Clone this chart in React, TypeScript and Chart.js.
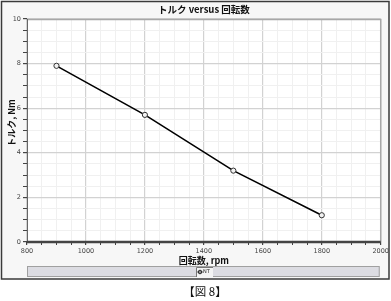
import React, { useEffect, useRef } from "react";
import { Chart, registerables } from "chart.js";

Chart.register(...registerables);

const rpm = [900, 1200, 1500, 1800];
const torque = [7.9, 5.7, 3.2, 1.2];
const seriesLabel = "NT";
const chartTitle = "トルク versus 回転数";
const xTitle = "回転数, rpm";
const yTitle = "トルク, Nm";
const caption = "【図 8】";
const xMajor = [800, 1000, 1200, 1400, 1600, 1800, 2000];
const yMajor = [0, 2, 4, 6, 8, 10];

const JP = "'Noto Sans CJK JP', 'DejaVu Sans', sans-serif";

const framePlugin = {
  id: "frame",
  beforeDraw(chart: any) {
    const ctx = chart.ctx;
    const a = chart.chartArea;
    ctx.save();
    ctx.fillStyle = "#ffffff";
    ctx.fillRect(0, 0, chart.width, chart.height);
    ctx.fillStyle = "#f7f7f7";
    ctx.fillRect(1, 1, 388, 278);
    ctx.strokeStyle = "#3a3a3a";
    ctx.lineWidth = 1.5;
    ctx.strokeRect(1.5, 1.5, 387.5, 277.5);
    ctx.fillStyle = "#ffffff";
    ctx.fillRect(a.left, a.top, a.right - a.left, a.bottom - a.top);
    ctx.restore();
  },
  afterDraw(chart: any) {
    const ctx = chart.ctx;
    const a = chart.chartArea;
    const cx = (a.left + a.right) / 2;
    ctx.save();
    ctx.strokeStyle = "#a8a8a8";
    ctx.lineWidth = 1.5;
    ctx.beginPath();
    ctx.moveTo(a.left, a.top + 0.5);
    ctx.lineTo(a.right, a.top + 0.5);
    ctx.lineTo(a.right, a.bottom);
    ctx.stroke();
    ctx.strokeStyle = "#666";
    ctx.lineWidth = 1;
    ctx.beginPath();
    ctx.moveTo(a.left + 0.5, a.top);
    ctx.lineTo(a.left + 0.5, a.bottom);
    ctx.stroke();
    ctx.strokeStyle = "#444";
    ctx.lineWidth = 2.5;
    ctx.beginPath();
    ctx.moveTo(a.left, a.bottom);
    ctx.lineTo(a.right, a.bottom);
    ctx.stroke();
    ctx.fillStyle = "#111";
    ctx.textAlign = "center";
    ctx.textBaseline = "middle";
    ctx.font = "bold 9.5px " + JP;
    ctx.fillText(chartTitle, cx, 9);
    ctx.font = "bold 9px " + JP;
    ctx.fillText(xTitle, cx, 261);
    ctx.save();
    ctx.translate(12, 123);
    ctx.rotate(-Math.PI / 2);
    ctx.fillText(yTitle, 0, 0);
    ctx.restore();
    ctx.fillStyle = "#dcdce2";
    ctx.fillRect(a.left, 266, a.right - a.left - 1, 10);
    ctx.strokeStyle = "#a0a0a0";
    ctx.lineWidth = 1;
    ctx.strokeRect(a.left + 0.5, 266.5, a.right - a.left - 2, 10);
    ctx.fillStyle = "#f4f4f4";
    ctx.fillRect(196, 267, 17, 10);
    ctx.strokeStyle = "#777";
    ctx.beginPath();
    ctx.moveTo(196.5, 277);
    ctx.lineTo(196.5, 267.5);
    ctx.lineTo(213, 267.5);
    ctx.stroke();
    ctx.beginPath();
    ctx.arc(200, 272, 1.8, 0, Math.PI * 2);
    ctx.strokeStyle = "#222";
    ctx.stroke();
    ctx.beginPath();
    ctx.moveTo(197.5, 272);
    ctx.lineTo(202.5, 272);
    ctx.stroke();
    ctx.fillStyle = "#222";
    ctx.font = "5px 'DejaVu Sans', sans-serif";
    ctx.textAlign = "left";
    ctx.fillText(seriesLabel, 203, 272);
    ctx.fillStyle = "#111";
    ctx.textAlign = "center";
    ctx.font = "11.5px " + JP;
    ctx.fillText(caption, 205, 292);
    ctx.restore();
  },
};

export default function App() {
  const ref = useRef<HTMLCanvasElement>(null);
  useEffect(() => {
    document.body.style.margin = "0";
    const chart = new Chart(ref.current as HTMLCanvasElement, {
      type: "line",
      data: {
        datasets: [
          {
            label: seriesLabel,
            data: rpm.map((x, i) => ({ x, y: torque[i] })),
            borderColor: "#000",
            borderWidth: 1.6,
            pointRadius: 2.6,
            pointBackgroundColor: "#f2f2f2",
            pointBorderColor: "#333",
            pointBorderWidth: 1,
            tension: 0,
          },
        ],
      },
      plugins: [framePlugin],
      options: {
        animation: false,
        responsive: false,
        events: [],
        layout: { padding: { left: 0, top: 19, right: 9, bottom: 39 } },
        plugins: { legend: { display: false }, title: { display: false }, tooltip: { enabled: false } },
        scales: {
          x: {
            type: "linear",
            min: 800,
            max: 2000,
            afterFit: (s: any) => { s.height = 20; },
            border: { display: false },
            grid: {
              color: (c: any) => (c.tick && xMajor.includes(c.tick.value) ? "#d2d2d2" : "#f0f0f0"),
              lineWidth: (c: any) => (c.tick && xMajor.includes(c.tick.value) ? 1.2 : 1),
              tickColor: "#444",
              tickLength: 3,
              drawTicks: true,
            },
            ticks: {
              stepSize: 50,
              autoSkip: false,
              maxRotation: 0,
              padding: 2,
              color: "#444",
              font: { size: 6.5, family: "'DejaVu Sans', sans-serif" },
              callback: (v: any) => (xMajor.includes(Number(v)) ? String(v) : ""),
            },
          },
          y: {
            type: "linear",
            min: 0,
            max: 10,
            afterFit: (s: any) => { s.width = 27; },
            border: { display: false },
            grid: {
              color: (c: any) => (c.tick && yMajor.includes(c.tick.value) ? "#d2d2d2" : "#f0f0f0"),
              lineWidth: (c: any) => (c.tick && yMajor.includes(c.tick.value) ? 1.2 : 1),
              tickColor: "#444",
              tickLength: 4,
            },
            ticks: {
              stepSize: 0.5,
              autoSkip: false,
              padding: 2,
              color: "#444",
              font: { size: 6.5, family: "'DejaVu Sans', sans-serif" },
              callback: (v: any) => (yMajor.includes(Number(v)) ? String(v) : ""),
            },
          },
        },
      },
    } as any);
    return () => chart.destroy();
  }, []);
  return (
    <div style={{ position: "absolute", left: 0, top: 0, width: 391, height: 301 }}>
      <canvas ref={ref} width={391} height={301} style={{ width: 391, height: 301 }} />
    </div>
  );
}
